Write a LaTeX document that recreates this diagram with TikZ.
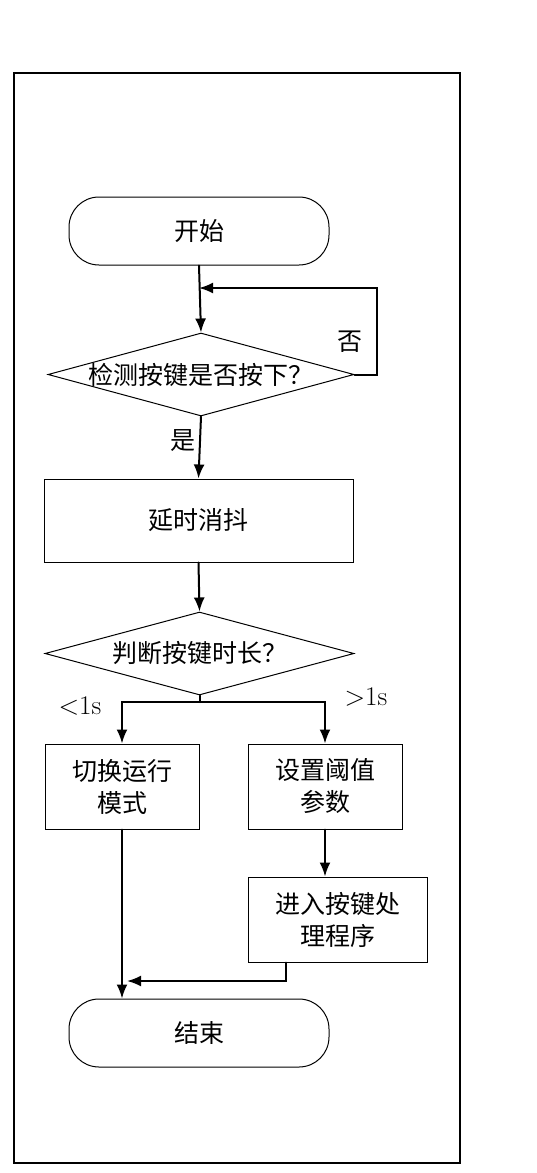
\documentclass[tikz,border=0pt]{standalone}
\usepackage{fontspec}
\newfontfamily\cjk{Noto Sans CJK SC}
\usetikzlibrary{shapes.geometric,arrows.meta}
\begin{document}
\begin{tikzpicture}[x=1pt,y=-1pt,cap=round,>={Latex[length=14pt,width=11pt]},
    font=\cjk\fontsize{25}{32}\selectfont,
    shape line/.style={line width=1pt},
    startstop/.style={shape line,draw,rectangle,rounded corners=30pt,minimum width=260pt,minimum height=68pt},
    procbox/.style={shape line,draw,rectangle,align=center,minimum width=154pt,minimum height=85pt},
    decision/.style={shape line,draw,diamond,inner sep=0pt},
    arr/.style={->,line width=2pt}]
  \useasboundingbox (0,0) rectangle (536,1173);
  % outer frame
  \draw[line width=1.6pt] (14,73) rectangle (460,1163);
  % the blocks
  \node[startstop] (start) at (199,231) {开始};
  \node[decision,minimum width=306pt,minimum height=83pt,label=center:{检测按键是否按下？}] (chk) at (201,374.5) {};
  \node[procbox,minimum width=309pt,minimum height=83pt] (delay) at (198.5,520.5) {延时消抖};
  \node[decision,minimum width=309pt,minimum height=83pt,label=center:{判断按键时长？}] (dur) at (199.5,653.5) {};
  \node[procbox] (mode) at (122,786.5) {切换运行\\模式};
  \node[procbox] (setp) at (325,786.5) {设置阈值\\参数};
  \node[procbox,minimum width=179pt] (proc) at (337.5,919.5) {进入按键处\\理程序};
  \node[startstop] (stop) at (199,1033) {结束};
  % labels
  \node (no) at (350,342) {否};
  \node (yes) at (183,441) {是};
  \node[font=\fontsize{27}{30}\selectfont] (short) at (80,706) {<1s};
  \node[font=\fontsize{27}{30}\selectfont] (long) at (366,697) {>1s};
  % connectors
  \coordinate (loop) at (199,288);
  \coordinate (back) at (377,288);
  \coordinate (fork) at (199.5,702);
  \coordinate (join) at (127,981);
  \draw[arr] (start.south) -- (chk.north);
  \draw[arr] (chk.east) -| (back) -- (loop);
  \draw[arr] (chk.south) -- (delay.north);
  \draw[arr] (delay.south) -- (dur.north);
  \draw[line width=2pt] (dur.south) -- (fork);
  \draw[arr] (fork) -| (mode.north);
  \draw[arr] (fork) -| (setp.north);
  \draw[arr] (setp.south) -- (setp.south |- proc.north);
  \draw[arr] (mode.south) -- (mode.south |- stop.north);
  \draw[arr] ([xshift=-52pt]proc.south) |- (join);
\end{tikzpicture}
\end{document}
